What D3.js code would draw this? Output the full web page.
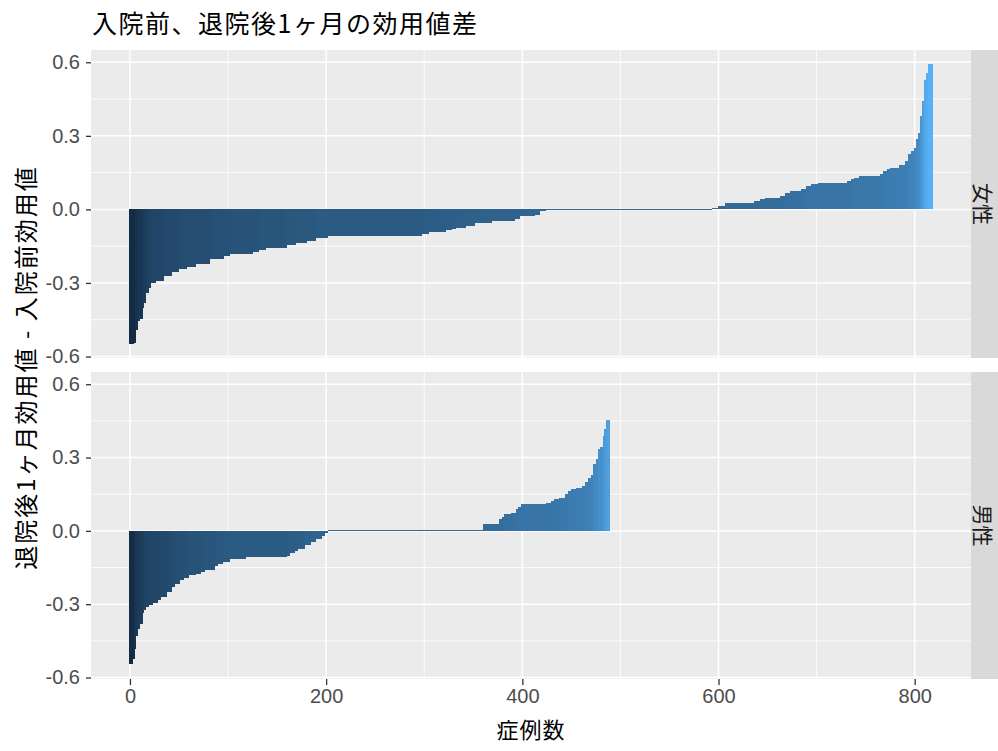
<!DOCTYPE html>
<html>
<head>
<meta charset="utf-8">
<script src="https://cdn.jsdelivr.net/npm/d3@7"></script>
<style>
  html, body { margin: 0; padding: 0; background: #ffffff; }
  svg { display: block; }
</style>
</head>
<body>
<svg id="chart" width="998" height="751"></svg>
<script>
// ---------------- data (sorted utility differences, run-length: value x count) ----------------
const facets = ["女性", "男性"];

const femaleValues = [-0.549,-0.543,-0.491,-0.457,-0.447,-0.403,-0.383,-0.343,-0.322,-0.302,
  -0.291,-0.271,-0.257,-0.244,-0.235,-0.221,-0.203,-0.190,-0.180,-0.174,
  -0.164,-0.156,-0.147,-0.137,-0.129,-0.117,-0.109,-0.102,-0.093,-0.086,
  -0.082,-0.075,-0.068,-0.055,-0.048,-0.039,-0.025,-0.021,-0.008,
  0,
  0.005,0.015,0.028,0.034,0.041,0.048,0.055,0.068,0.075,0.082,
  0.095,0.102,0.109,0.116,0.122,0.129,0.136,0.143,0.156,0.163,
  0.170,0.183,0.197,0.224,0.237,0.250,0.286,0.313,0.380,0.441,
  0.529,0.556,0.593];
const femaleCounts = [4,2,2,2,3,2,2,3,2,5,
  8,8,7,8,10,14,14,6,24,6,
  7,21,9,12,9,12,96,7,17,6,
  5,10,9,17,24,5,15,5,6,
  170,
  6,7,30,6,5,15,5,5,12,5,
  5,7,29,5,3,5,21,3,4,3,
  9,7,3,3,3,2,2,2,2,2,
  2,2,5];

const maleValues = [-0.543,-0.525,-0.484,-0.430,-0.403,-0.383,-0.338,-0.325,-0.311,-0.304,
  -0.297,-0.284,-0.270,-0.250,-0.230,-0.216,-0.203,-0.193,-0.182,-0.176,
  -0.169,-0.159,-0.142,-0.135,-0.128,-0.115,-0.108,-0.101,-0.091,-0.081,
  -0.074,-0.058,-0.047,-0.033,-0.020,-0.010,
  0,
  0.028,0.048,0.058,0.068,0.075,0.089,0.098,0.109,0.115,0.121,
  0.129,0.136,0.150,0.163,0.171,0.175,0.184,0.202,0.216,0.230,
  0.274,0.295,0.336,0.342,0.389,0.416,0.454];
const maleCounts = [3,2,1,2,2,3,2,2,3,4,
  5,3,6,5,3,5,4,5,8,5,
  4,10,3,5,7,17,41,3,5,4,
  7,6,5,6,3,3,
  158,
  17,3,2,7,5,2,3,26,5,3,
  5,6,3,3,5,6,3,3,4,2,
  3,2,2,3,1,2,4];

const xTicks = [0, 200, 400, 600, 800];
const xMinor = [100, 300, 500, 700];
const yTicks = [-0.6, -0.3, 0, 0.3, 0.6];
const yTickLabels = ["-0.6", "-0.3", "0.0", "0.3", "0.6"];
const yMinor = [-0.45, -0.15, 0.15, 0.45];

const titleText = "入院前、退院後1ヶ月の効用値差";
const xTitle = "症例数";
const yTitle = "退院後1ヶ月効用値 - 入院前効用値";

// ---------------- build rows ----------------
function expand(values, counts) {
  const out = [];
  values.forEach((v, k) => { for (let c = 0; c < counts[k]; c++) out.push(v); });
  return out.map((v, i) => ({ x: i, y: v }));
}
const series = [expand(femaleValues, femaleCounts), expand(maleValues, maleCounts)];

// ---------------- layout ----------------
const svg = d3.select("#chart");
const W = 998, H = 751;
const panelLeft = 91, panelRight = 971;
const panels = [{ top: 50, bottom: 358 }, { top: 372, bottom: 679 }];
const stripW = 40;

const CJK = "'Noto Sans CJK JP', 'Noto Sans CJK SC', sans-serif";
const LAT = "'Liberation Sans', Arial, sans-serif";

// shared scales (ggplot-like 5% expansion on y)
const allY = series.flat().map(d => d.y).concat([0]);
const yMin = d3.min(allY), yMax = d3.max(allY);
const yPad = (yMax - yMin) * 0.05;
const xDomain = [-39.7, 857.4];
const x = d3.scaleLinear().domain(xDomain).range([panelLeft, panelRight]);
const color = d3.scaleLinear().domain([yMin, yMax]).range(["#132B43", "#56B1F7"]).interpolate(d3.interpolateLab);

svg.append("rect").attr("width", W).attr("height", H).attr("fill", "#ffffff");

panels.forEach((p, pi) => {
  const y = d3.scaleLinear().domain([yMin - yPad, yMax + yPad]).range([p.bottom, p.top]);
  const g = svg.append("g");
  // panel background
  g.append("rect").attr("x", panelLeft).attr("y", p.top)
    .attr("width", panelRight - panelLeft).attr("height", p.bottom - p.top)
    .attr("fill", "#EBEBEB");
  // minor grid
  g.selectAll(".ymin").data(yMinor).enter().append("line")
    .attr("x1", panelLeft).attr("x2", panelRight)
    .attr("y1", d => y(d)).attr("y2", d => y(d))
    .attr("stroke", "#ffffff").attr("stroke-width", 0.8);
  g.selectAll(".xmin").data(xMinor).enter().append("line")
    .attr("y1", p.top).attr("y2", p.bottom)
    .attr("x1", d => x(d)).attr("x2", d => x(d))
    .attr("stroke", "#ffffff").attr("stroke-width", 0.8);
  // major grid
  g.selectAll(".ymaj").data(yTicks).enter().append("line")
    .attr("x1", panelLeft).attr("x2", panelRight)
    .attr("y1", d => y(d)).attr("y2", d => y(d))
    .attr("stroke", "#ffffff").attr("stroke-width", 1.5);
  g.selectAll(".xmaj").data(xTicks).enter().append("line")
    .attr("y1", p.top).attr("y2", p.bottom)
    .attr("x1", d => x(d)).attr("x2", d => x(d))
    .attr("stroke", "#ffffff").attr("stroke-width", 1.5);

  // bars
  const y0 = y(0);
  g.append("g").attr("shape-rendering", "crispEdges")
    .selectAll("rect").data(series[pi]).enter().append("rect")
    .attr("x", d => x(d.x - 0.5))
    .attr("width", d => x(d.x + 0.5) - x(d.x - 0.5) + 0.3)
    .attr("y", d => d.y === 0 ? y0 - 0.5 : Math.min(y(d.y), y0))
    .attr("height", d => d.y === 0 ? 1 : Math.abs(y(d.y) - y0))
    .attr("fill", d => color(d.y));

  // y axis
  const ay = svg.append("g").attr("transform", `translate(${panelLeft},0)`)
    .call(d3.axisLeft(y).tickValues(yTicks).tickSize(5).tickPadding(6)
      .tickFormat((d, i) => yTickLabels[i]));
  ay.select(".domain").remove();
  ay.selectAll(".tick line").attr("stroke", "#333333").attr("stroke-width", 1.3);
  ay.selectAll(".tick text").attr("fill", "#4D4D4D").style("font-family", LAT).style("font-size", "20px");

  // strip
  svg.append("rect").attr("x", panelRight).attr("y", p.top)
    .attr("width", stripW).attr("height", p.bottom - p.top).attr("fill", "#D9D9D9");
  svg.append("text")
    .attr("transform", `translate(${panelRight + 13},${(p.top + p.bottom) / 2}) rotate(90)`)
    .attr("text-anchor", "middle").attr("dominant-baseline", "central")
    .attr("fill", "#1A1A1A").style("font-family", CJK).style("font-size", "21px")
    .text(facets[pi]);
});

// x axis (bottom panel only)
const ax = svg.append("g").attr("transform", `translate(0,${panels[1].bottom})`)
  .call(d3.axisBottom(x).tickValues(xTicks).tickSize(6).tickPadding(4).tickFormat(d3.format("d")));
ax.select(".domain").remove();
ax.selectAll(".tick line").attr("stroke", "#333333").attr("stroke-width", 1.3);
ax.selectAll(".tick text").attr("fill", "#4D4D4D").style("font-family", LAT).style("font-size", "20px");

// titles
svg.append("text").attr("x", 92).attr("y", 33)
  .attr("fill", "#000000").style("font-family", CJK).style("font-size", "25px")
  .style("letter-spacing", "1.5px").text(titleText);

svg.append("text").attr("x", (panelLeft + panelRight) / 2).attr("y", 738)
  .attr("text-anchor", "middle").attr("fill", "#000000")
  .style("font-family", CJK).style("font-size", "22px").style("letter-spacing", "1px")
  .text(xTitle);

svg.append("text")
  .attr("transform", `translate(24,${(panels[0].top + panels[1].bottom) / 2 + 3}) rotate(-90)`)
  .attr("text-anchor", "middle").attr("dominant-baseline", "central")
  .attr("fill", "#000000").style("font-family", CJK).style("font-size", "24px")
  .style("letter-spacing", "2px")
  .text(yTitle);
</script>
</body>
</html>
